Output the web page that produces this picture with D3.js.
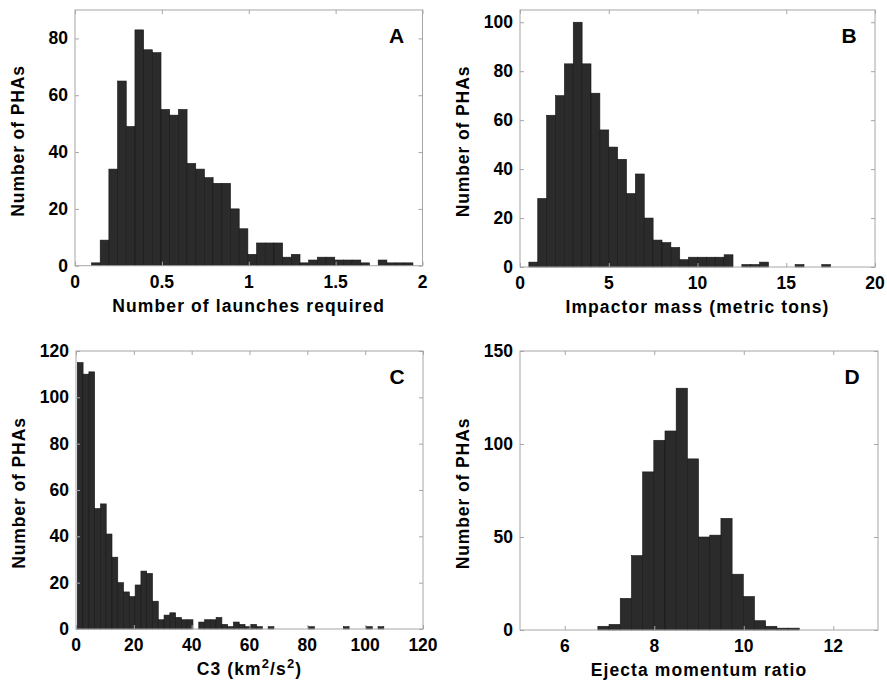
<!DOCTYPE html>
<html>
<head>
<meta charset="utf-8">
<script src="https://cdn.jsdelivr.net/npm/d3@7"></script>
<style>
  html, body { margin: 0; padding: 0; background: #ffffff; }
  svg { display: block; }
  text { font-family: "Liberation Sans", Arial, sans-serif; font-weight: bold; fill: #000; }
</style>
</head>
<body>
<svg id="chart" width="887" height="687"></svg>
<script>
// ---------------- DATA ----------------
// Panel A: number of launches required
const aBinStart = 0.095;
const aBinWidth = 0.05;
const aCounts = [1, 9, 34, 65, 49, 83, 76, 75, 55, 53, 55, 36, 34, 31, 29, 29, 20, 13, 4, 8, 8, 8, 3, 4, 1, 2, 3, 3, 2, 2, 2, 1, 0, 2, 1, 1, 1];
const aXTicks = [0, 0.5, 1, 1.5, 2];
const aYTicks = [0, 20, 40, 60, 80];

// Panel B: impactor mass (metric tons)
const bBinStart = 0.5;
const bBinWidth = 0.5;
const bCounts = [2, 28, 62, 70, 83, 100, 83, 71, 56, 49, 44, 30, 38, 20, 11, 10, 8, 3, 4, 4, 4, 4, 5, 0, 1, 1, 2, 0, 0, 0, 1, 0, 0, 1];
const bXTicks = [0, 5, 10, 15, 20];
const bYTicks = [0, 20, 40, 60, 80, 100];

// Panel C: C3 (km^2/s^2)
const cBinStart = 0.45;
const cBinWidth = 2.0;
const cCounts = [115, 110, 111, 52, 54, 41, 31, 20, 16, 14, 19, 25, 24, 12, 4, 6, 7, 5, 4, 4, 0, 3, 4, 4, 5, 2, 1, 3, 2, 1, 2, 1, 0, 1, 0, 0, 0, 0, 0, 0, 1, 0, 0, 0, 0, 0, 1, 0, 0, 0, 1, 0, 1];
const cXTicks = [0, 20, 40, 60, 80, 100, 120];
const cYTicks = [0, 20, 40, 60, 80, 100, 120];

// Panel D: ejecta momentum ratio
const dBinStart = 6.74;
const dBinWidth = 0.25;
const dCounts = [2, 3, 17, 40, 85, 102, 107, 130, 92, 50, 51, 60, 30, 18, 5, 2, 1, 1];
const dXTicks = [6, 8, 10, 12];
const dYTicks = [0, 50, 100, 150];

const yTitle = "Number of PHAs";
const panelLetters = ["A", "B", "C", "D"];

// ---------------- LAYOUT ----------------
const panels = [
  { letter: panelLetters[0], start: aBinStart, width: aBinWidth, counts: aCounts,
    xDomain: [0, 2], yDomain: [0, 90], xTicks: aXTicks, yTicks: aYTicks,
    fmt: d3.format("~g"), xTitle: "Number of launches required",
    box: { l: 75, r: 422.5, t: 10, b: 265.7 } },
  { letter: panelLetters[1], start: bBinStart, width: bBinWidth, counts: bCounts,
    xDomain: [0, 20], yDomain: [0, 105], xTicks: bXTicks, yTicks: bYTicks,
    fmt: d3.format("~g"), xTitle: "Impactor mass (metric tons)",
    box: { l: 520, r: 875, t: 10, b: 267 } },
  { letter: panelLetters[2], start: cBinStart, width: cBinWidth, counts: cCounts,
    xDomain: [0, 120], yDomain: [0, 120], xTicks: cXTicks, yTicks: cYTicks,
    fmt: d3.format("~g"), xTitle: null,
    box: { l: 76, r: 423, t: 351, b: 629 } },
  { letter: panelLetters[3], start: dBinStart, width: dBinWidth, counts: dCounts,
    xDomain: [5, 13], yDomain: [0, 150], xTicks: dXTicks, yTicks: dYTicks,
    fmt: d3.format("~g"), xTitle: "Ejecta momentum ratio",
    box: { l: 520, r: 878, t: 351, b: 630 } }
];

const svg = d3.select("#chart");
const frameColor = "#a6a6a6";
const tickLen = 4;

panels.forEach((p, pi) => {
  const B = p.box;
  const x = d3.scaleLinear().domain(p.xDomain).range([B.l, B.r]);
  const y = d3.scaleLinear().domain(p.yDomain).range([B.b, B.t]);
  const g = svg.append("g");

  // bars
  const bins = p.counts.map((c, i) => ({ x0: p.start + i * p.width, x1: p.start + (i + 1) * p.width, n: c }))
    .filter(d => d.n > 0);
  g.append("g").selectAll("rect").data(bins).join("rect")
    .attr("x", d => x(d.x0))
    .attr("width", d => x(d.x1) - x(d.x0))
    .attr("y", d => y(d.n))
    .attr("height", d => y(0) - y(d.n))
    .attr("fill", "#2b2b2b")
    .attr("stroke", "#161616")
    .attr("stroke-width", 0.6);

  // axes (ticks inward on all four sides)
  const axB = d3.axisBottom(x).tickValues(p.xTicks).tickSize(-tickLen).tickFormat("");
  const axT = d3.axisTop(x).tickValues(p.xTicks).tickSize(-tickLen).tickFormat("");
  const axL = d3.axisLeft(y).tickValues(p.yTicks).tickSize(-tickLen).tickFormat("");
  const axR = d3.axisRight(y).tickValues(p.yTicks).tickSize(-tickLen).tickFormat("");
  const axes = [
    g.append("g").attr("transform", `translate(0,${B.b})`).call(axB),
    g.append("g").attr("transform", `translate(0,${B.t})`).call(axT),
    g.append("g").attr("transform", `translate(${B.l},0)`).call(axL),
    g.append("g").attr("transform", `translate(${B.r},0)`).call(axR)
  ];
  axes.forEach(a => {
    a.selectAll("path").remove();
    a.selectAll("line").attr("stroke", frameColor).attr("stroke-width", 1);
  });

  // frame
  g.append("rect")
    .attr("x", B.l).attr("y", B.t)
    .attr("width", B.r - B.l).attr("height", B.b - B.t)
    .attr("fill", "none").attr("stroke", frameColor).attr("stroke-width", 1);

  // tick labels
  g.append("g").selectAll("text").data(p.xTicks).join("text")
    .attr("x", d => x(d)).attr("y", B.b + 22)
    .attr("text-anchor", "middle")
    .attr("font-size", 17.5)
    .text(d => p.fmt(d));
  g.append("g").selectAll("text").data(p.yTicks).join("text")
    .attr("x", B.l - 7).attr("y", d => y(d) + 6)
    .attr("text-anchor", "end")
    .attr("font-size", 17.5)
    .text(d => p.fmt(d));

  // x title
  const xt = g.append("text")
    .attr("x", (B.l + B.r) / 2).attr("y", B.b + 46)
    .attr("text-anchor", "middle")
    .attr("font-size", 17.5)
    .attr("letter-spacing", 1.1);
  if (p.xTitle) {
    xt.text(p.xTitle);
  } else {
    xt.append("tspan").text("C3 (km");
    xt.append("tspan").attr("dy", -7).attr("font-size", 13).text("2");
    xt.append("tspan").attr("dy", 7).text("/s");
    xt.append("tspan").attr("dy", -7).attr("font-size", 13).text("2");
    xt.append("tspan").attr("dy", 7).text(")");
  }

  // y title
  g.append("text")
    .attr("transform", `translate(${B.l - 51},${(B.t + B.b) / 2 + 3}) rotate(-90)`)
    .attr("text-anchor", "middle")
    .attr("font-size", 17.5)
    .attr("letter-spacing", 0.9)
    .text(yTitle);

  // panel letter
  g.append("text")
    .attr("x", B.r - 26).attr("y", B.t + 33)
    .attr("text-anchor", "middle")
    .attr("font-size", 21)
    .text(p.letter);
});
</script>
</body>
</html>
